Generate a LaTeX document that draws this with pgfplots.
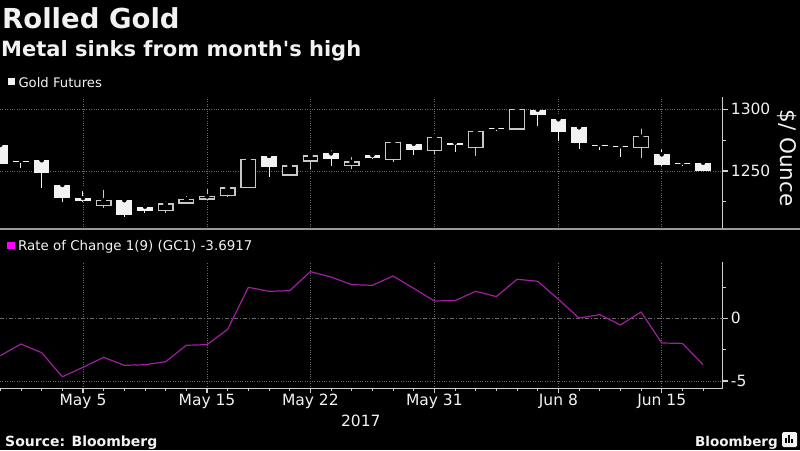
\documentclass[border=0pt]{standalone}
\usepackage{pgfplots}
\usepackage{pgfplotstable}
\pgfplotsset{compat=1.18}
\usepackage{fontspec}
\setmainfont{DejaVu Sans}
\definecolor{fg}{HTML}{F2F2F2}
\definecolor{hol}{HTML}{C8C8C8}
\definecolor{gridc}{HTML}{6A6A6A}
\definecolor{axc}{HTML}{D0D0D0}
\definecolor{roc}{HTML}{A01EA0}
\definecolor{mag}{HTML}{FF00FF}
\definecolor{sep}{HTML}{9A9A9A}

% down (filled) candles: index, low, body low, body high, high
\pgfplotstableread{
x low bl bh high
0 1255.5 1255.7 1271.1 1273.7
1 1252.7 1257.3 1258.3 1259.5
2 1236.0 1248.1 1258.7 1259.0
3 1224.6 1227.9 1238.7 1241.9
4 1225.1 1225.7 1228.1 1235.4
6 1213.0 1214.3 1226.3 1227.9
7 1215.7 1217.6 1221.1 1224.6
13 1245.4 1253.2 1262.2 1265.6
16 1254.3 1259.5 1264.3 1268.4
18 1259.7 1260.5 1262.7 1264.0
20 1263.0 1266.8 1272.1 1274.3
22 1265.2 1271.1 1272.9 1274.6
24 1282.4 1284.4 1285.2 1287.8
26 1286.7 1295.4 1299.7 1300.8
27 1274.6 1281.4 1291.9 1293.5
28 1267.8 1272.4 1285.4 1285.9
29 1267.0 1270.4 1271.2 1273.7
30 1261.6 1269.3 1270.1 1273.3
32 1254.0 1254.6 1263.5 1269.4
33 1253.8 1256.1 1256.9 1258.9
34 1249.8 1249.8 1256.7 1257.5
}\golddn
% up (hollow) candles
\pgfplotstableread{
x low bl bh high
5 1220.3 1221.9 1226.3 1236.5
8 1215.7 1218.1 1223.3 1227.1
9 1224.1 1224.1 1227.1 1231.4
10 1226.7 1227.3 1229.5 1237.3
11 1229.2 1230.3 1236.2 1238.9
12 1236.5 1236.5 1259.5 1262.7
14 1246.8 1246.8 1254.1 1257.3
15 1251.6 1258.1 1262.2 1263.8
17 1251.6 1254.6 1257.3 1263.0
19 1257.5 1259.2 1273.3 1273.7
21 1263.8 1266.8 1277.3 1277.8
23 1262.4 1268.9 1282.2 1284.0
25 1284.0 1284.0 1299.7 1300.8
31 1260.3 1269.2 1277.8 1286.2
}\goldup
% rate of change
\pgfplotstableread{
x roc
0 -2.98
1 -2.05
2 -2.74
3 -4.66
4 -3.91
5 -3.11
6 -3.75
7 -3.70
8 -3.46
9 -2.15
10 -2.10
11 -0.88
12 2.47
13 2.15
14 2.20
15 3.72
16 3.29
17 2.68
18 2.63
19 3.37
20 2.39
21 1.38
22 1.41
23 2.15
24 1.73
25 3.11
26 2.95
27 1.51
28 0.02
29 0.29
30 -0.53
31 0.50
32 -1.97
33 -2.00
34 -3.69
}\roctab

\pgfplotsset{
  panel/.style={
    scale only axis, width=722.7pt,
    xmin=-0.015, xmax=34.95,
    axis y line*=right, axis x line*=bottom,
    axis line style={-, axc, line width=1.3pt},
    tick align=outside,
    major tick length=5pt, minor tick length=3pt,
    every tick/.style={axc, line width=1.2pt},
    minor tick style={axc, line width=0.8pt},
    xtick={4,10,15,21,27,32},
    xmajorgrids, ymajorgrids,
    major grid style={gridc, dotted, line width=0.7pt},
    ticklabel style={font=\fontsize{15.5}{18}\selectfont, text=fg},
    clip=true,
  },
  bar/.style n args={3}{only marks, mark=none,
    error bars/.cd, y dir=both, y explicit, error mark=none,
    error bar style={draw=#1, line width=#2, #3}},
}

\begin{document}
\begin{tikzpicture}
\fill[black] (0,0) rectangle (800pt,-450pt);

% titles
\node[anchor=base west, inner sep=0, text=fg, font=\bfseries\fontsize{27.5}{30}\selectfont] at (2pt,-28.3pt) {Rolled Gold};
\node[anchor=base west, inner sep=0, text=fg, font=\bfseries\fontsize{21}{25}\selectfont] at (1pt,-56.7pt) {Metal sinks from month\textquotesingle s high};

% legend top
\fill[fg] (7.5pt,-77.7pt) rectangle (15pt,-85.3pt);
\node[anchor=base west, inner sep=0, text=fg, font=\fontsize{13.2}{16}\selectfont] at (18.3pt,-87.3pt) {Gold Futures};

% top panel
\begin{axis}[panel, at={(0pt,-229pt)}, anchor=south west, height=132pt,
  ymin=1203, ymax=1310,
  ytick={1250,1300}, yticklabels={1250,1300}, minor ytick={1225,1275},
  xticklabels={}, x axis line style={draw=none},
  xtick style={draw=none},
  yticklabel style={anchor=west, inner sep=0pt, xshift=3pt},
]
% wicks
\addplot[bar={fg}{1pt}{}] table[x=x, y=high, y error plus expr=0, y error minus expr=\thisrow{high}-\thisrow{low}] {\golddn};
\addplot[bar={hol}{1pt}{}] table[x=x, y=high, y error plus expr=0, y error minus expr=\thisrow{high}-\thisrow{low}] {\goldup};
% filled bodies
\addplot[bar={fg}{15.7pt}{}] table[x=x, y=bh, y error plus expr=0, y error minus expr=\thisrow{bh}-\thisrow{bl}] {\golddn};
% hollow bodies
\addplot[bar={hol}{15.7pt}{shorten <=-0.6pt, shorten >=-0.6pt}] table[x=x, y=bh, y error plus expr=0, y error minus expr=\thisrow{bh}-\thisrow{bl}] {\goldup};
\addplot[bar={black}{13.3pt}{shorten <=0.6pt, shorten >=0.6pt}] table[x=x, y=bh, y error plus expr=0, y error minus expr=\thisrow{bh}-\thisrow{bl}] {\goldup};
\end{axis}

% separator
\draw[sep, line width=2pt] (0,-229.3pt) -- (800pt,-229.3pt);

% y label
\node[rotate=-90, inner sep=0, text=fg, font=\fontsize{21.5}{24}\selectfont] at (787pt,-158pt) {\$/ Ounce};

% legend bottom
\fill[mag] (7pt,-241.7pt) rectangle (15pt,-249.3pt);
\node[anchor=base west, inner sep=0, text=fg, font=\fontsize{13.4}{16}\selectfont] at (18pt,-250.7pt) {Rate of Change 1(9) (GC1) -3.6917};

% bottom panel
\begin{axis}[panel, at={(0pt,-388.3pt)}, anchor=south west, height=126.6pt,
  ymin=-5.58, ymax=4.51,
  ytick={-5}, yticklabels={-5}, minor ytick={-2.5,2.5},
  extra y ticks={0}, extra y tick labels={0},
  extra y tick style={grid=major, major grid style={gridc, line width=0.7pt, dash pattern=on 4pt off 2pt on 1pt off 2pt}},
  minor xtick={0,...,34},
  xticklabels={May 5,May 15,May 22,May 31,Jun 8,Jun 15},
  yticklabel style={anchor=west, inner sep=0pt, xshift=3pt},
  xticklabel style={anchor=north, inner sep=0pt, yshift=-0.5pt},
]
\addplot[roc, line width=1.2pt] table[x=x, y=roc] {\roctab};
\end{axis}

\node[anchor=base, inner sep=0, text=fg, font=\fontsize{15.5}{18}\selectfont] at (360.8pt,-426.7pt) {2017};

% footer
\node[anchor=base west, inner sep=0, text=fg, font=\bfseries\fontsize{14}{16}\selectfont] at (5pt,-446.7pt) {Source: Bloomberg};
\node[anchor=base east, inner sep=0, text=fg, font=\bfseries\fontsize{13.5}{16}\selectfont] at (778pt,-446pt) {Bloomberg};
\fill[fg, rounded corners=1.5pt] (782pt,-432pt) rectangle (797pt,-447pt);
\fill[black] (785pt,-443pt) rectangle (786.5pt,-438pt);
\fill[black] (788pt,-443pt) rectangle (789.5pt,-435pt);
\fill[black] (791pt,-443pt) rectangle (792.5pt,-439pt);

\pgfresetboundingbox
\useasboundingbox (0,0) rectangle (800pt,-450pt);
\end{tikzpicture}
\end{document}
